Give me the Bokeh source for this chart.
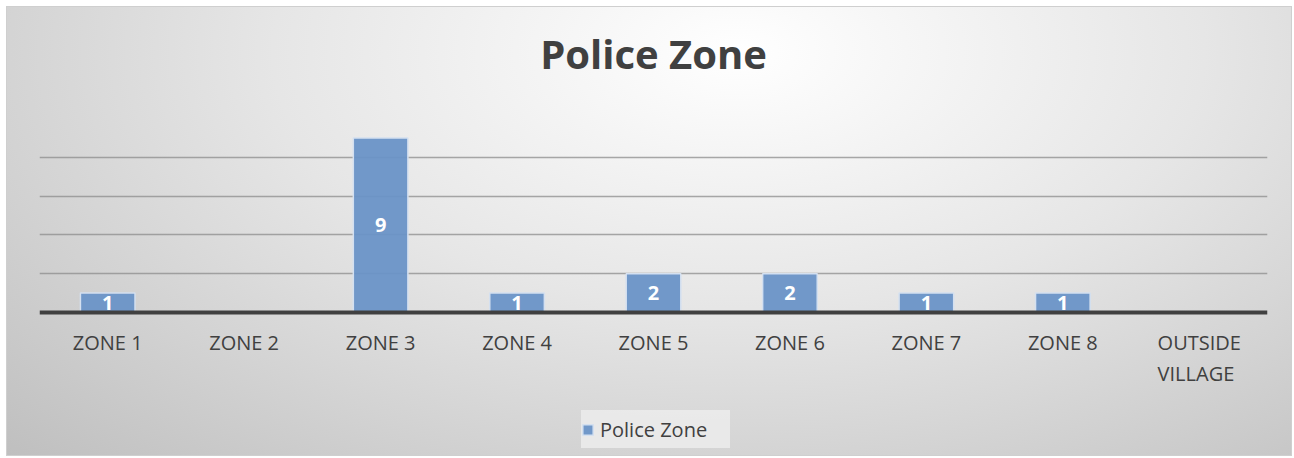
from bokeh.plotting import figure
from bokeh.models import ColumnDataSource, LabelSet, Legend, LegendItem, Range1d, FixedTicker, Title, Span
from bokeh.core.properties import value
from bokeh.embed import file_html
from bokeh.resources import INLINE

zones = ["ZONE 1", "ZONE 2", "ZONE 3", "ZONE 4", "ZONE 5", "ZONE 6", "ZONE 7", "ZONE 8", "OUTSIDE\nVILLAGE"]
counts = [1, 0, 9, 1, 2, 2, 1, 1, 0]
series_name = "Police Zone"
title_text = "Police Zone"

src = ColumnDataSource(dict(zone=zones, count=counts))
lab_src = ColumnDataSource(dict(
    zone=[z for z, c in zip(zones, counts) if c > 0],
    mid=[c / 2 for c in counts if c > 0],
    txt=[str(c) for c in counts if c > 0],
))

W, H = 1286, 450
TOP, LEFT, RIGHT = 111, 32, 26
frame_h = H - TOP
value_h = 194          # pixels used by the 0..10 value band
y_max = 10
y_min = -y_max * (frame_h - value_h) / value_h   # room under the baseline for labels and legend

p = figure(x_range=zones, y_range=Range1d(y_min, y_max), width=W, height=H,
           output_backend="svg", toolbar_location=None,
           x_axis_location=None, y_axis_location=None,
           min_border_left=LEFT, min_border_right=RIGHT, min_border_top=TOP, min_border_bottom=0)
p.title = None
p.border_fill_color = None
p.background_fill_color = None
p.outline_line_color = None
p.styles = {
    "background-image": "radial-gradient(ellipse farthest-corner at 57% 10%, #ffffff 0%, #e6e6e6 45%, #bfbfbf 100%)",
    "border": "1px solid #cfcfcf",
    "margin-left": "6px",
    "margin-top": "6px",
}

# spacer between the title and the plot area (nearest the frame), then the title
p.add_layout(Title(text=" ", text_font_size="1px", standoff=30), "above")
p.add_layout(Title(text=title_text, text_font="Open Sans", text_font_style="bold",
                   text_font_size="40px", text_color="#404040", align="center",
                   standoff=10), "above")

p.ygrid.ticker = FixedTicker(ticks=[2, 4, 6, 8, 10])
p.ygrid.grid_line_color = "#8c8c8c"
p.ygrid.grid_line_alpha = 0.75
p.ygrid.grid_line_width = 1.5
p.xgrid.grid_line_color = None

r = p.vbar(x="zone", top="count", width=0.4, source=src,
           fill_color="#6a93c7", fill_alpha=0.95, line_color="#d4e0f0", line_width=1.5)

# category baseline
p.add_layout(Span(location=0, dimension="width", line_color="#404040", line_width=4))

# value labels inside the bars
p.add_layout(LabelSet(x="zone", y="mid", text="txt", source=lab_src,
                      text_align="center", text_baseline="middle",
                      text_color="white", text_font=value("Open Sans"), text_font_style="bold",
                      text_font_size="20px"))

# category labels under the baseline
p.add_layout(LabelSet(x="zone", y=0, text="zone", source=src,
                      y_offset=-16, text_align="center", text_baseline="top",
                      text_color="#404040", text_font=value("Open Sans"),
                      text_font_size="20px", text_line_height=1.15))

legend = Legend(items=[LegendItem(label=series_name, renderers=[r])],
                location=(542, 9), orientation="horizontal",
                background_fill_color="#ececec", background_fill_alpha=0.85,
                border_line_color=None,
                label_text_font="Open Sans", label_text_font_size="20px",
                label_text_color="#404040",
                glyph_width=13, glyph_height=13, label_standoff=6,
                label_height=38, label_width=130,
                padding=10, margin=0)
p.add_layout(legend)

open("out.html", "w").write(file_html(p, INLINE))
